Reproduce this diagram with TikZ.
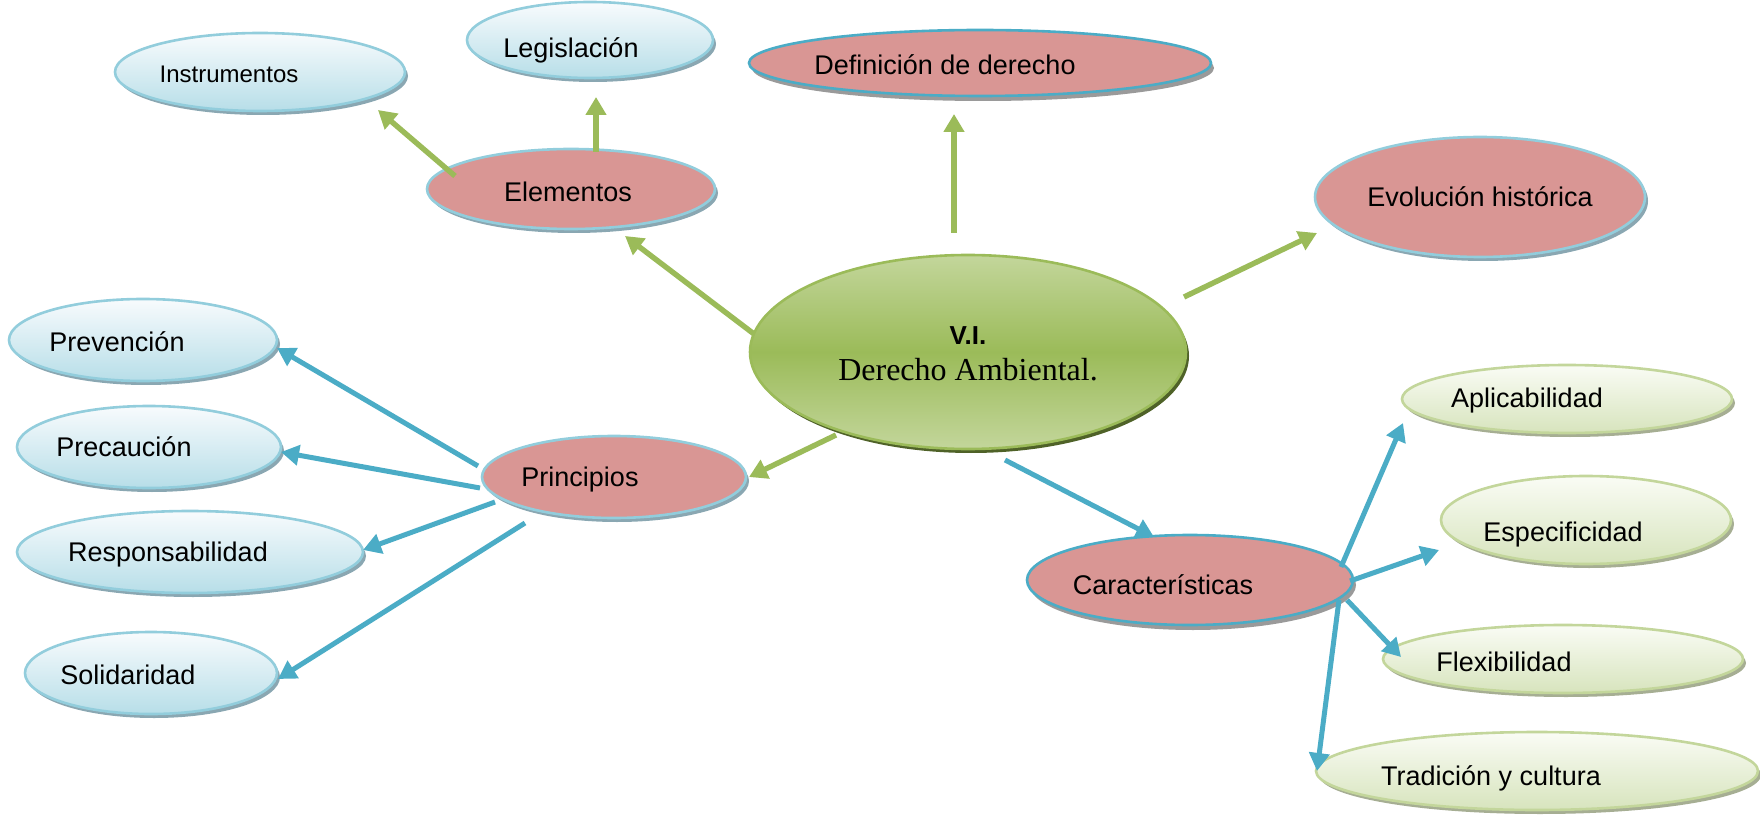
\documentclass[tikz,border=0pt]{standalone}
\usepackage{fontspec}
\setmainfont{Liberation Sans}
\newfontfamily\timesfont{Liberation Serif}
\usetikzlibrary{shapes.geometric,arrows.meta,shadows}

\definecolor{pinkfill}{HTML}{D99694}
\definecolor{darkbord}{HTML}{4BACC6}
\definecolor{lightbord}{HTML}{92CDDC}
\definecolor{grayshad}{HTML}{9A9A9A}
\definecolor{blueshad}{HTML}{8AA7B2}
\definecolor{btop}{HTML}{F8FBFD}
\definecolor{bbot}{HTML}{B7DEE8}
\definecolor{gtopc}{HTML}{C3D69B}
\definecolor{gmidc}{HTML}{9BBB59}
\definecolor{gshad}{HTML}{4F6228}
\definecolor{ltop}{HTML}{FAFCF5}
\definecolor{lbot}{HTML}{D7E4BD}
\definecolor{lbord}{HTML}{C3D69B}
\definecolor{lshad}{HTML}{A6AE93}
\definecolor{garr}{HTML}{9BBB59}
\definecolor{barr}{HTML}{4BACC6}

\tikzset{
  basenode/.style={ellipse, inner sep=0pt, outer sep=0pt, line width=1.3pt},
  bluenode/.style={basenode, draw=lightbord, top color=btop, bottom color=bbot,
    drop shadow={opacity=1, fill=blueshad, shadow xshift=1.5pt, shadow yshift=-2pt}},
  pinknode/.style={basenode, draw=lightbord, fill=pinkfill,
    drop shadow={opacity=1, fill=blueshad, shadow xshift=1.5pt, shadow yshift=-2pt}},
  pinkdark/.style={basenode, draw=darkbord, fill=pinkfill,
    drop shadow={opacity=1, fill=grayshad, shadow xshift=1.5pt, shadow yshift=-2.5pt}},
  lgreennode/.style={basenode, draw=lbord, top color=ltop, bottom color=lbot,
    drop shadow={opacity=1, fill=lshad, shadow xshift=1.5pt, shadow yshift=-2pt}},
  centralnode/.style={basenode, draw=gmidc, top color=gtopc, bottom color=gtopc, middle color=gmidc,
    drop shadow={opacity=1, fill=gshad, shadow xshift=1.5pt, shadow yshift=-2pt}},
  txt/.style={font=\fontsize{13.5}{16}\selectfont, inner sep=0pt, text=black},
  garrow/.style={draw=garr, line width=2.7pt, -{Triangle[length=9pt,width=10pt]}},
  barrow/.style={draw=barr, line width=2.5pt, -{Triangle[length=9pt,width=10pt]}},
}

\begin{document}
\begin{tikzpicture}[x=0.5pt, y=-0.5pt]
\useasboundingbox (0,0) rectangle (1760,823);

% top-left blue nodes
\node[bluenode, minimum width=145pt, minimum height=39pt,
  label={[txt,font=\fontsize{12}{14}\selectfont,xshift=-15.5pt,yshift=-1pt]center:Instrumentos}] (inst) at (260,72) {};
\node[bluenode, minimum width=123pt, minimum height=38pt,
  label={[txt,xshift=-9.5pt,yshift=-5pt]center:Legislación}] (legis) at (590,40) {};

% pink nodes
\node[pinkdark, minimum width=231pt, minimum height=33pt,
  label={[txt,xshift=-17.5pt,yshift=-1pt]center:Definición de derecho}] (defin) at (980,63) {};
\node[pinknode, minimum width=144pt, minimum height=40pt,
  label={[txt,xshift=-1.5pt,yshift=-1.5pt]center:Elementos}] (elem) at (571,189) {};
\node[pinknode, minimum width=165pt, minimum height=60pt,
  label={[txt]center:Evolución histórica}] (evol) at (1480,197) {};
\node[pinknode, minimum width=132pt, minimum height=41pt,
  label={[txt,xshift=-17pt,yshift=-1.5pt]center:Principios}] (princ) at (614,477) {};
\node[pinkdark, minimum width=163pt, minimum height=45pt,
  label={[txt,xshift=-13.5pt,yshift=-2.5pt]center:Características}] (carac) at (1190,580) {};

% central node
\node[centralnode, minimum width=218pt, minimum height=97pt,
  label={[align=center,inner sep=0pt,font=\fontsize{16}{17}\selectfont,yshift=-1pt]center:{{\fontsize{13}{15}\selectfont\bfseries V.I.}\\[1pt] {\timesfont Derecho Ambiental.}}}] (central) at (968,352) {};

% left blue nodes
\node[bluenode, minimum width=134pt, minimum height=41pt,
  label={[txt,xshift=-13pt,yshift=-1pt]center:Prevención}] (prev) at (143,340) {};
\node[bluenode, minimum width=132pt, minimum height=41pt,
  label={[txt,xshift=-12.5pt]center:Precaución}] (prec) at (149,447) {};
\node[bluenode, minimum width=173pt, minimum height=41pt,
  label={[txt,xshift=-11pt,yshift=-1.5pt]center:Responsabilidad}] (resp) at (190,552) {};
\node[bluenode, minimum width=126pt, minimum height=41pt,
  label={[txt,xshift=-11.5pt,yshift=-1pt]center:Solidaridad}] (soli) at (151,673) {};

% right light-green nodes
\node[lgreennode, minimum width=165pt, minimum height=34pt,
  label={[txt,xshift=-20pt,yshift=-1pt]center:Aplicabilidad}] (aplic) at (1567,399) {};
\node[lgreennode, minimum width=145pt, minimum height=44pt,
  label={[txt,xshift=-11.5pt,yshift=-7.5pt]center:Especificidad}] (espec) at (1586,520) {};
\node[lgreennode, minimum width=180pt, minimum height=34pt,
  label={[txt,xshift=-29.5pt,yshift=-1.5pt]center:Flexibilidad}] (flex) at (1563,659) {};
\node[lgreennode, minimum width=221pt, minimum height=39pt,
  label={[txt,xshift=-23pt,yshift=-3.5pt]center:Tradición y cultura}] (trad) at (1537,771) {};

% green arrows
\draw[garrow] ([shift={(-214,-18)}]central.center) -- ([shift={(54,47)}]elem.center);
\draw[garrow] ([shift={(-116,-13)}]elem.center) -- ([shift={(118,38)}]inst.center);
\draw[garrow] ([shift={(25,-37)}]elem.center) -- ([shift={(6,57)}]legis.center);
\draw[garrow] ([shift={(-14,-119)}]central.center) -- ([shift={(-26,51)}]defin.center);
\draw[garrow] ([shift={(216,-55)}]central.center) -- ([shift={(-163,36)}]evol.center);
\draw[garrow] ([shift={(-132,83)}]central.center) -- ([shift={(135,0)}]princ.center);

% blue arrows
\draw[barrow] ([shift={(-136,-11)}]princ.center) -- ([shift={(134,8)}]prev.center);
\draw[barrow] ([shift={(-134,11)}]princ.center) -- ([shift={(132,5)}]prec.center);
\draw[barrow] ([shift={(-119,25)}]princ.center) -- ([shift={(173,-2)}]resp.center);
\draw[barrow] ([shift={(-89,46)}]princ.center) -- ([shift={(127,6)}]soli.center);
\draw[barrow] ([shift={(37,108)}]central.center) -- ([shift={(-36,-43)}]carac.center);
\draw[barrow] ([shift={(151,-13)}]carac.center) -- ([shift={(-164,24)}]aplic.center);
\draw[barrow] ([shift={(160,1)}]carac.center) -- ([shift={(-147,30)}]espec.center);
\draw[barrow] ([shift={(157,20)}]carac.center) -- ([shift={(-162,-2)}]flex.center);
\draw[barrow] ([shift={(149,20)}]carac.center) -- ([shift={(-220,0)}]trad.center);
\end{tikzpicture}
\end{document}
